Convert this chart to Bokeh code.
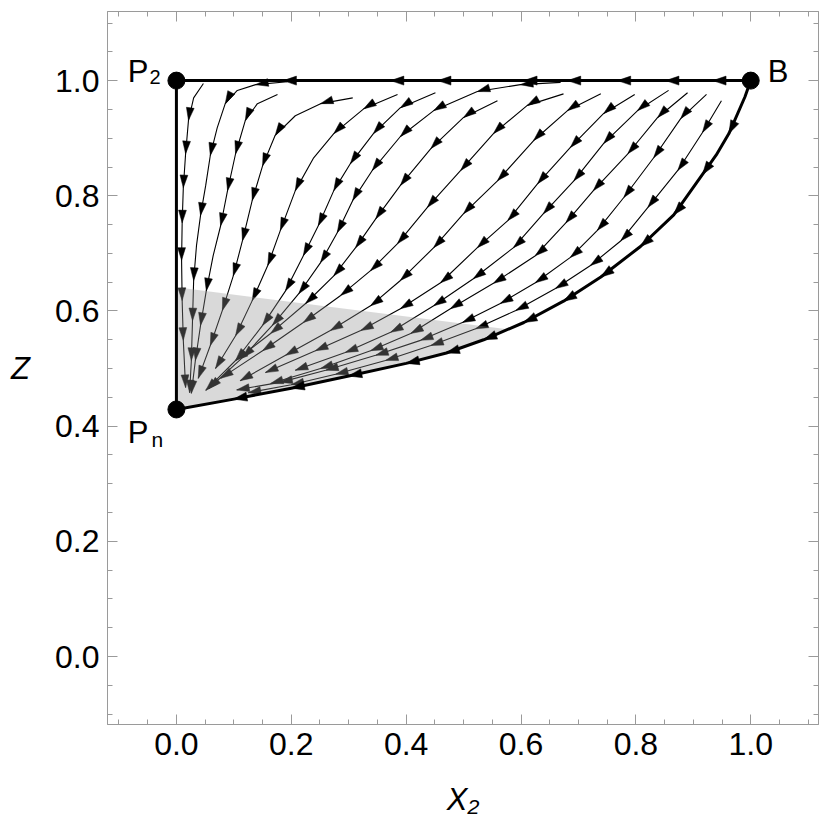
import math
from bokeh.plotting import figure
from bokeh.models import FixedTicker, LinearAxis, PrintfTickFormatter, CustomJSTickFormatter
from bokeh.core.properties import value
from bokeh.embed import file_html
from bokeh.resources import INLINE

# ---- fixed points ----
pt_x = [0.0, 1.0, 0.0]
pt_z = [1.0, 1.0, 0.429]

# ---- invariant boundaries (flow direction) ----
top_x = [1.0, 0.934, 0.852, 0.768, 0.681, 0.605, 0.455, 0.373, 0.186, 0.0]
top_z = [1.0, 1.0, 1.0, 1.0, 1.0, 1.0, 1.0, 1.0, 1.0, 1.0]
wall_x = [0.0, 0.0]
wall_z = [1.0, 0.429]
bnd_x = [1.0, 0.99, 0.962, 0.94, 0.916, 0.866, 0.808, 0.739, 0.674, 0.605, 0.535, 0.47, 0.4, 0.3, 0.2, 0.1, 0.0]
bnd_z = [1.0, 0.972, 0.908, 0.871, 0.837, 0.767, 0.712, 0.659, 0.617, 0.580, 0.550, 0.527, 0.509, 0.487, 0.466, 0.447, 0.429]

# ---- shaded region ----
gray_x = [0.0, 0.58, 0.535, 0.47, 0.4, 0.3, 0.2, 0.1, 0.0]
gray_z = [0.641, 0.568, 0.550, 0.527, 0.509, 0.487, 0.466, 0.447, 0.429]

# ---- streamlines ----
stream_x = [
    [0.047, 0.030, 0.021, 0.016, 0.012, 0.010, 0.009, 0.010, 0.012, 0.016],
    [0.193, 0.138, 0.106, 0.085, 0.071, 0.059, 0.051, 0.042, 0.035, 0.030, 0.028, 0.026, 0.023],
    [0.176, 0.141, 0.120, 0.103, 0.089, 0.077, 0.064, 0.052, 0.042, 0.033, 0.026],
    [0.307, 0.251, 0.207, 0.172, 0.150, 0.132, 0.115, 0.099, 0.080, 0.059, 0.038],
    [0.385, 0.326, 0.274, 0.239, 0.207, 0.181, 0.159, 0.132, 0.103, 0.068],
    [0.451, 0.390, 0.343, 0.303, 0.274, 0.247, 0.221, 0.190, 0.150, 0.103, 0.051],
    [0.669, 0.599, 0.524, 0.448, 0.390, 0.341, 0.307, 0.280, 0.251, 0.213, 0.167, 0.115, 0.056],
    [0.559, 0.500, 0.443, 0.390, 0.347, 0.312, 0.274, 0.225, 0.164, 0.103],
    [0.674, 0.611, 0.552, 0.495, 0.437, 0.385, 0.338, 0.286, 0.221, 0.150, 0.077],
    [0.739, 0.681, 0.622, 0.559, 0.500, 0.448, 0.390, 0.338, 0.268, 0.190, 0.111],
    [0.798, 0.744, 0.686, 0.629, 0.577, 0.524, 0.460, 0.390, 0.321, 0.242, 0.155],
    [0.857, 0.803, 0.744, 0.692, 0.639, 0.587, 0.517, 0.448, 0.373, 0.294, 0.207],
    [0.890, 0.838, 0.786, 0.726, 0.678, 0.625, 0.552, 0.477, 0.408, 0.338, 0.251, 0.164],
    [0.923, 0.878, 0.831, 0.779, 0.733, 0.686, 0.625, 0.564, 0.498, 0.425, 0.347, 0.260, 0.180, 0.105],
    [0.949, 0.916, 0.873, 0.821, 0.774, 0.721, 0.660, 0.591, 0.521, 0.443, 0.364, 0.277, 0.200, 0.125],
]
stream_z = [
    [0.995, 0.970, 0.931, 0.873, 0.814, 0.753, 0.688, 0.618, 0.549, 0.467],
    [0.998, 0.993, 0.983, 0.960, 0.918, 0.870, 0.818, 0.766, 0.714, 0.653, 0.583, 0.514, 0.458],
    [0.976, 0.960, 0.931, 0.873, 0.809, 0.748, 0.696, 0.635, 0.575, 0.514, 0.457],
    [0.970, 0.960, 0.939, 0.905, 0.852, 0.792, 0.722, 0.661, 0.601, 0.540, 0.483],
    [0.976, 0.951, 0.908, 0.866, 0.809, 0.740, 0.679, 0.618, 0.557, 0.500],
    [0.979, 0.953, 0.908, 0.856, 0.809, 0.748, 0.696, 0.635, 0.575, 0.514, 0.462],
    [0.997, 0.993, 0.981, 0.948, 0.903, 0.844, 0.792, 0.736, 0.684, 0.630, 0.575, 0.519, 0.465],
    [0.965, 0.936, 0.882, 0.818, 0.760, 0.710, 0.661, 0.613, 0.561, 0.514],
    [0.977, 0.957, 0.908, 0.844, 0.780, 0.717, 0.670, 0.627, 0.580, 0.531, 0.483],
    [0.977, 0.948, 0.896, 0.826, 0.769, 0.710, 0.653, 0.609, 0.566, 0.523, 0.479],
    [0.976, 0.943, 0.884, 0.821, 0.757, 0.710, 0.649, 0.604, 0.566, 0.531, 0.493],
    [0.983, 0.948, 0.891, 0.826, 0.769, 0.710, 0.656, 0.609, 0.563, 0.528, 0.497],
    [0.979, 0.936, 0.873, 0.809, 0.753, 0.696, 0.648, 0.604, 0.561, 0.531, 0.500, 0.474],
    [0.976, 0.934, 0.866, 0.797, 0.740, 0.693, 0.649, 0.613, 0.580, 0.549, 0.523, 0.497, 0.476, 0.463],
    [0.965, 0.910, 0.844, 0.780, 0.722, 0.679, 0.639, 0.601, 0.569, 0.540, 0.514, 0.490, 0.472, 0.458],
]

# ---- axes ticks ----
major_ticks = [0.0, 0.2, 0.4, 0.6, 0.8, 1.0]
minor_ticks = [-0.1, -0.05, 0.05, 0.1, 0.15, 0.25, 0.3, 0.35, 0.45, 0.5, 0.55,
               0.65, 0.7, 0.75, 0.85, 0.9, 0.95, 1.05, 1.1]

FRAME = "#9a9a9a"
FONT = "Liberation Sans"


def heads_for(xs, zs, spacing=0.055, L=0.022, W=0.0068, include_end=True):
    hx, hz = [], []
    acc = 0.0
    n = len(xs)
    last = n if include_end else n - 1
    for i in range(1, last):
        acc += math.hypot(xs[i] - xs[i - 1], zs[i] - zs[i - 1])
        if acc >= spacing:
            j0, j1 = i - 1, min(i + 1, n - 1)
            dx, dz = xs[j1] - xs[j0], zs[j1] - zs[j0]
            d = math.hypot(dx, dz)
            ux, uz = dx / d, dz / d
            bx, bz = xs[i] - L * ux, zs[i] - L * uz
            hx.append([xs[i], bx + W * uz, bx - W * uz])
            hz.append([zs[i], bz - W * ux, bz + W * ux])
            acc = 0.0
    return hx, hz


p = figure(width=822, height=830, x_range=(-0.12, 1.118), y_range=(-0.118, 1.12),
           output_backend="svg", toolbar_location=None,
           min_border_left=107, min_border_right=4, min_border_top=11, min_border_bottom=106)
p.xgrid.visible = False
p.ygrid.visible = False
p.outline_line_color = FRAME
p.outline_line_width = 1


def style_axis(ax, labels):
    ax.ticker = FixedTicker(ticks=major_ticks, minor_ticks=minor_ticks)
    ax.axis_line_color = FRAME
    ax.major_tick_line_color = FRAME
    ax.minor_tick_line_color = FRAME
    ax.major_tick_in = 10
    ax.major_tick_out = 0
    ax.minor_tick_in = 5
    ax.minor_tick_out = 0
    if labels:
        ax.formatter = PrintfTickFormatter(format="%.1f")
        ax.major_label_text_font = FONT
        ax.major_label_text_font_size = "32px"
        ax.major_label_text_color = "black"
        ax.major_label_standoff = 8
        ax.axis_label_text_font = FONT
        ax.axis_label_text_font_size = "31px"
        ax.axis_label_text_font_style = "italic"
        ax.axis_label_text_color = "black"
    else:
        ax.formatter = CustomJSTickFormatter(code="return ''")
        ax.major_label_standoff = 0


style_axis(p.xaxis[0], True)
style_axis(p.yaxis[0], True)
p.xaxis[0].axis_label = "X₂"
p.xaxis[0].axis_label_standoff = 24
p.yaxis[0].axis_label = "Z"
p.yaxis[0].axis_label_orientation = "horizontal"
p.yaxis[0].axis_label_standoff = 22

top_ax = LinearAxis()
right_ax = LinearAxis()
style_axis(top_ax, False)
style_axis(right_ax, False)
p.add_layout(top_ax, "above")
p.add_layout(right_ax, "right")

# streamlines
p.multi_line(xs=stream_x, ys=stream_z, line_color="black", line_width=1.1)
hx, hz = [], []
for xs, zs in zip(stream_x, stream_z):
    a, b = heads_for(xs, zs)
    hx += a
    hz += b
p.patches(xs=hx, ys=hz, fill_color="black", line_color="black", line_width=0.5)

# shaded region (semi-transparent overlay)
p.patch(gray_x, gray_z, fill_color="#929292", fill_alpha=0.35, line_alpha=0)

# invariant boundaries
p.line(top_x, top_z, line_color="black", line_width=3)
p.line(wall_x, wall_z, line_color="black", line_width=3)
p.line(bnd_x, bnd_z, line_color="black", line_width=3, line_join="round")
bx_all, bz_all = [], []
for xs, zs in ((top_x, top_z), (bnd_x, bnd_z)):
    a, b = heads_for(xs, zs, spacing=0.05, L=0.023, W=0.0078, include_end=False)
    bx_all += a
    bz_all += b
p.patches(xs=bx_all, ys=bz_all, fill_color="black", line_color="black", line_width=0.5)

# fixed points
p.scatter(pt_x, pt_z, size=17, color="black")

# point labels
p.text(x=[pt_x[0]], y=[pt_z[0]], text=["P"], x_offset=-28, y_offset=-9,
       text_align="right", text_baseline="alphabetic",
       text_font=value(FONT), text_font_size="31px", text_color="black")
p.text(x=[pt_x[0]], y=[pt_z[0]], text=["2"], x_offset=-27, y_offset=-4,
       text_align="left", text_baseline="alphabetic",
       text_font=value(FONT), text_font_size="20px", text_color="black")
p.text(x=[pt_x[1]], y=[pt_z[1]], text=["B"], x_offset=17, y_offset=-9,
       text_align="left", text_baseline="alphabetic",
       text_font=value(FONT), text_font_size="31px", text_color="black")
p.text(x=[pt_x[2]], y=[pt_z[2]], text=["P"], x_offset=-28, y_offset=23,
       text_align="right", text_baseline="alphabetic",
       text_font=value(FONT), text_font_size="31px", text_color="black")
p.text(x=[pt_x[2]], y=[pt_z[2]], text=["n"], x_offset=-25, y_offset=30,
       text_align="left", text_baseline="alphabetic",
       text_font=value(FONT), text_font_size="21px", text_color="black")

open("out.html", "w").write(file_html(p, INLINE))
